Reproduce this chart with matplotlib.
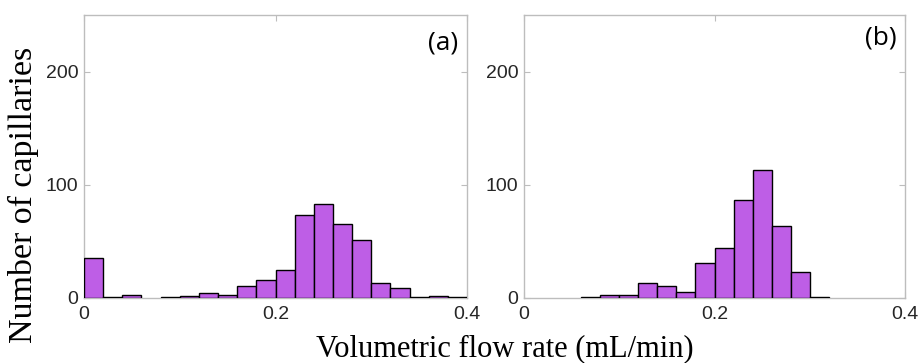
import numpy as np
import matplotlib
matplotlib.use("Agg")
import matplotlib.pyplot as plt

# Data (counts per 0.02 mL/min bin)
edges_a = [0.00, 0.02, 0.04, 0.06, 0.08, 0.10, 0.12, 0.14, 0.16, 0.18, 0.20,
           0.22, 0.24, 0.26, 0.28, 0.30, 0.32, 0.34, 0.36, 0.38, 0.40]
counts_a = [35, 1, 3, 0, 1, 2, 4, 3, 11, 16, 25, 73, 83, 65, 51, 13, 9, 1, 2, 1]

edges_b = [0.06, 0.08, 0.10, 0.12, 0.14, 0.16, 0.18, 0.20, 0.22, 0.24, 0.26,
           0.28, 0.30, 0.32]
counts_b = [1, 3, 3, 13, 11, 5, 31, 44, 87, 113, 64, 23, 1]

xticks = [0, 0.2, 0.4]
xticklabels = ["0", "0.2", "0.4"]
yticks = [0, 100, 200]
yticklabels = ["0", "100", "200"]
panel_labels = ["(a)", "(b)"]
xlabel = "Volumetric flow rate (mL/min)"
ylabel = "Number of capillaries"

bar_color = "#BE5EE6"
spine_color = "#BDBDBD"
tick_color = "#262626"

fig = plt.figure(figsize=(9.19, 3.63), dpi=100)
ax_a = fig.add_axes([84/919, 1-298/363, 383/919, 283/363])
ax_b = fig.add_axes([524/919, 1-298/363, 381/919, 283/363])

def draw(ax, edges, counts, label, lab_pos):
    e = np.array(edges)
    c = np.array(counts)
    left = e[:-1]
    w = np.diff(e)
    mask = c > 0
    ax.bar(left[mask], c[mask], width=w[mask], align="edge",
           color=bar_color, edgecolor="black", linewidth=1.0, zorder=2)
    ax.set_xlim(0, 0.4)
    ax.set_ylim(0, 250)
    ax.set_xticks(xticks)
    ax.set_xticklabels(xticklabels)
    ax.set_yticks(yticks)
    ax.set_yticklabels(yticklabels)
    for s in ax.spines.values():
        s.set_color(spine_color)
        s.set_linewidth(1.0)
        s.set_zorder(1)
    ax.tick_params(direction="in", length=4, width=0.8, color=spine_color,
                   labelcolor=tick_color, labelsize=14, top=True, right=True)
    ax.tick_params(axis="x", pad=6)
    ax.tick_params(axis="y", pad=4)
    for t in ax.get_xticklabels() + ax.get_yticklabels():
        t.set_family("Liberation Sans")
    ax.text(lab_pos[0], lab_pos[1], label, transform=ax.transAxes,
            ha="right", va="center", fontsize=19, family="Open Sans",
            color="black")

draw(ax_a, edges_a, counts_a, panel_labels[0], (0.977, 0.90))
draw(ax_b, edges_b, counts_b, panel_labels[1], (0.979, 0.92))

fig.text(505/919, 1-349/363, xlabel, ha="center", va="center",
         fontsize=22, family="Liberation Serif", color="black")
fig.text(23/919, 1-195/363, ylabel, ha="center", va="center", rotation=90,
         fontsize=24.5, family="Liberation Serif", color="black")

fig.savefig("out.png", dpi=100)
